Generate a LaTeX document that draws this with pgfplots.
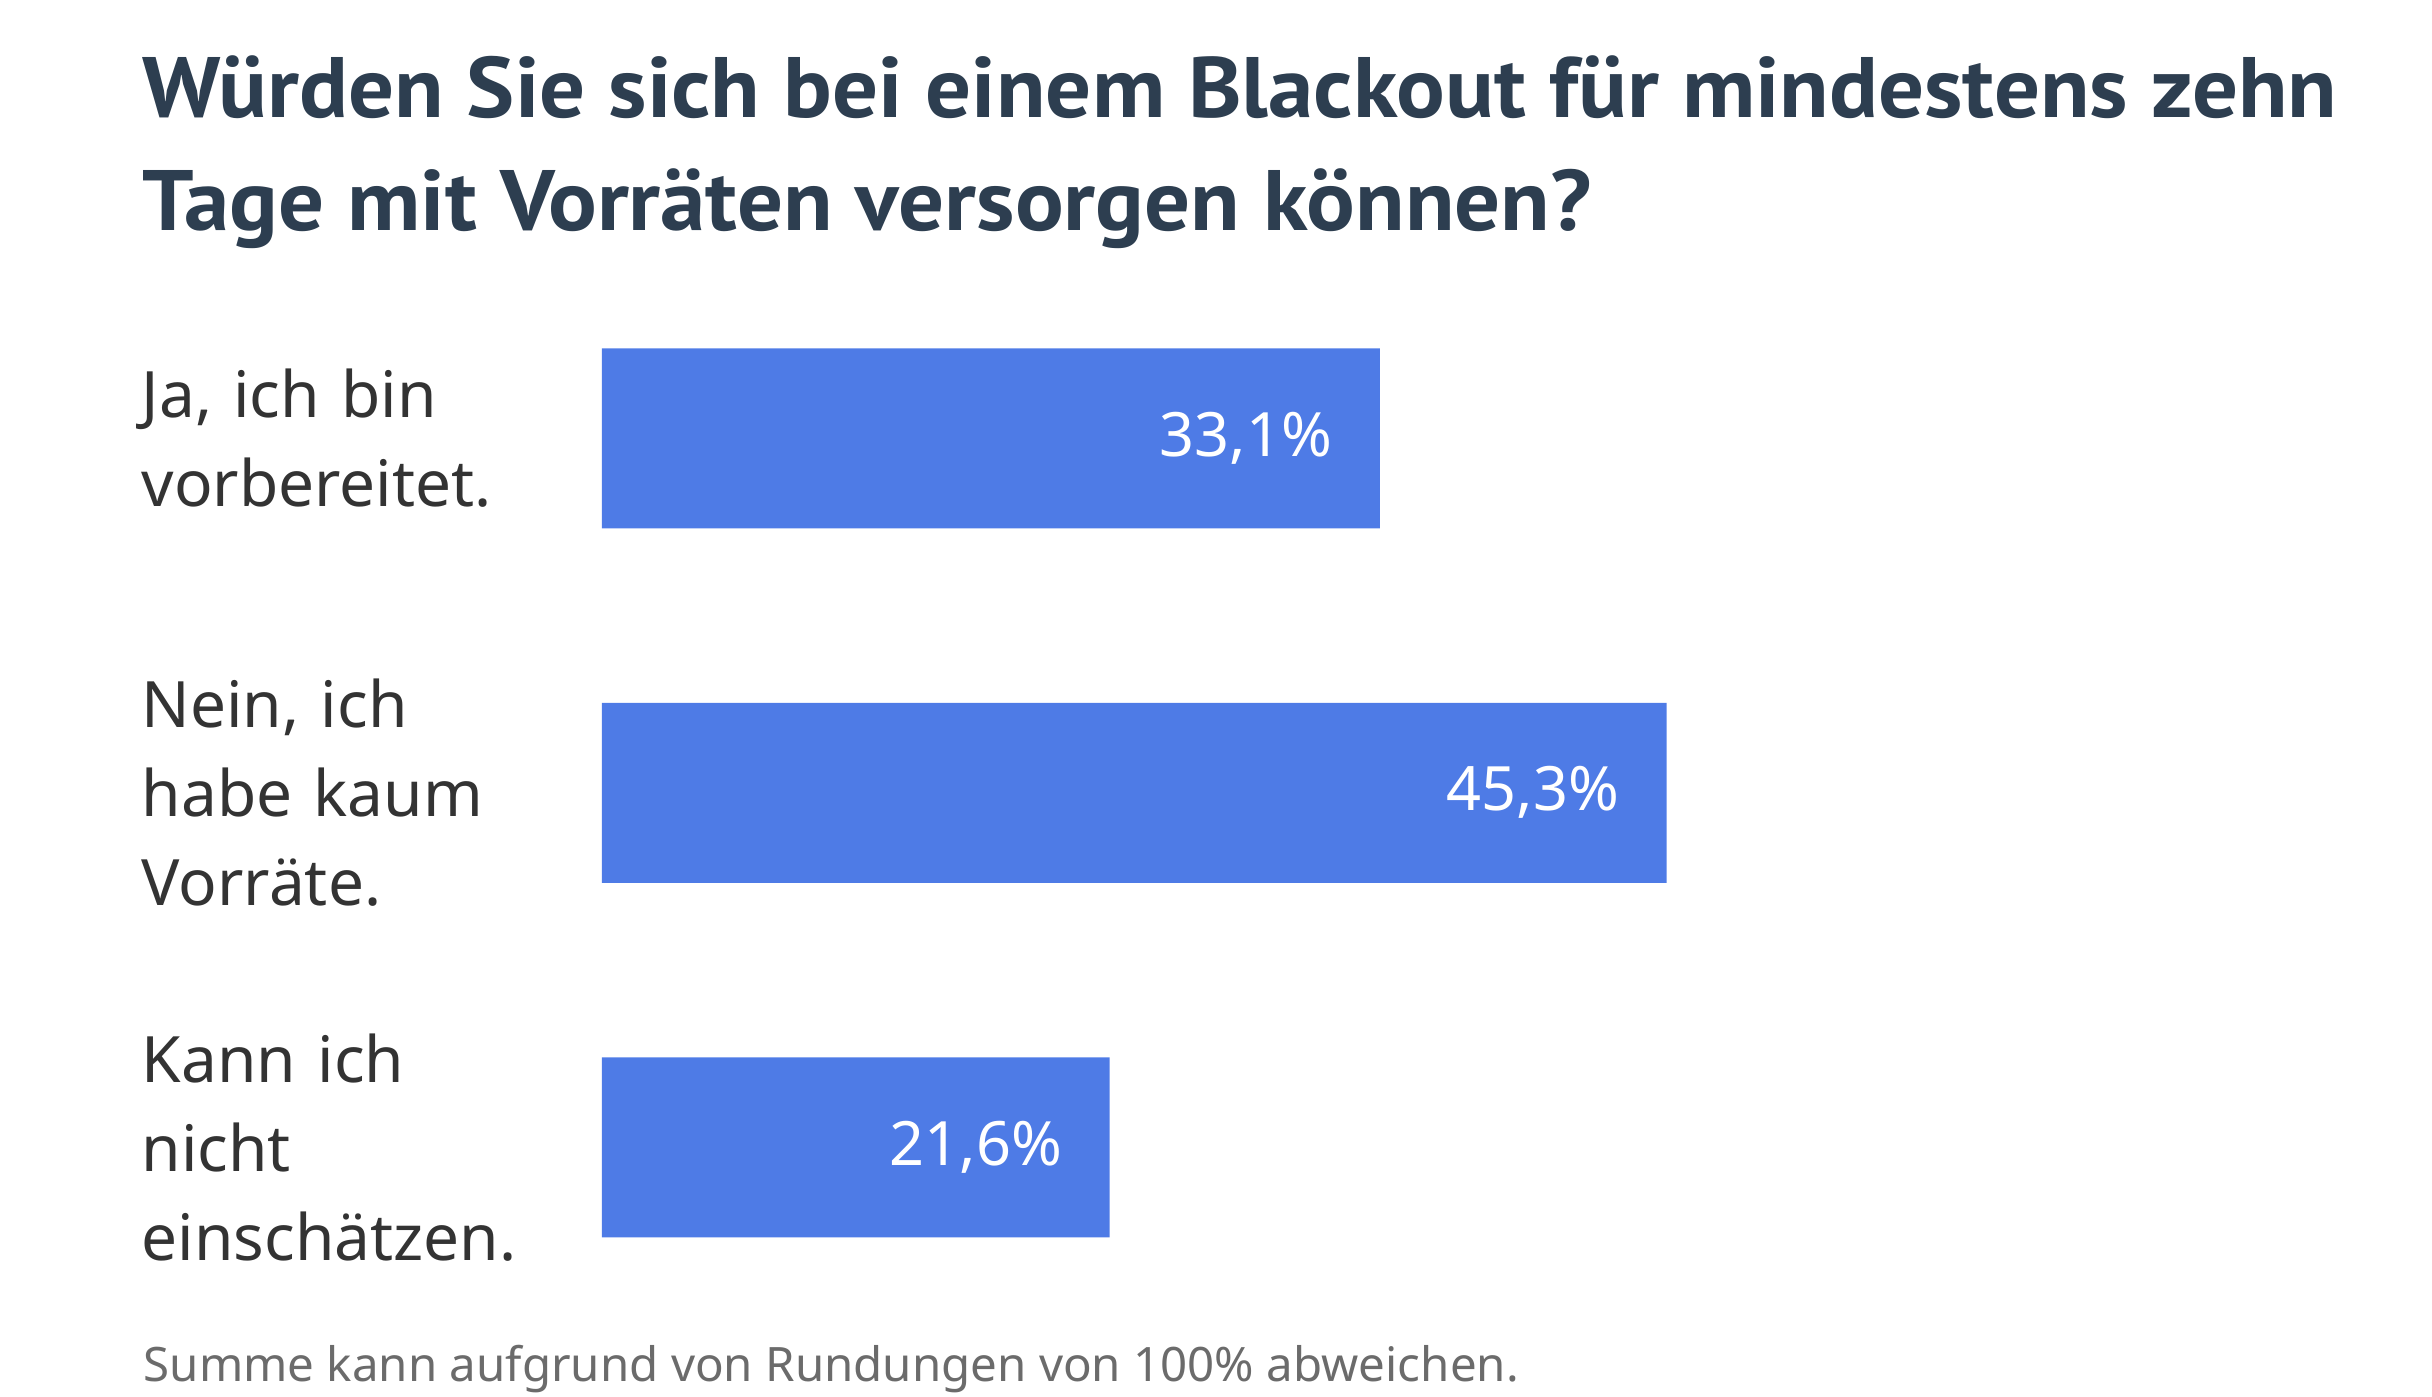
\documentclass[border=0pt]{standalone}
\usepackage{fontspec}
\setmainfont{Noto Sans}
\newfontfamily\titlefont[FakeStretch=1.06]{PT Sans}
\usepackage{pgfplots}
\pgfplotsset{compat=1.18}

\definecolor{barblue}{HTML}{4E7BE6}
\definecolor{titlecol}{HTML}{2D3E50}
\definecolor{labelcol}{HTML}{333333}
\definecolor{notecol}{HTML}{6B6B6B}

\begin{document}
\begin{tikzpicture}
  % page frame: 1 px of the reference = 0.1 mm
  \useasboundingbox (0,0) rectangle (243.2mm,-139.6mm);

  % base anchor of a multi-line node sits on its last line
  \node[anchor=base west, inner sep=0, align=left, text=titlecol,
        font=\titlefont\bfseries\fontsize{24.4}{31.9}\selectfont]
    at (14.2mm,-23.0mm)
    {Würden Sie sich bei einem Blackout für mindestens zehn\\Tage mit Vorräten versorgen können?};

  \begin{axis}[
      at={(60.2mm,-26.1mm)}, anchor=north west,
      xbar, bar width=18mm,
      scale only axis,
      width=141mm, height=106.35mm,
      xmin=0, xmax=60,
      ymin=-0.5, ymax=2.5,
      y dir=reverse,
      axis line style={draw=none},
      xtick=\empty,
      ytick={0,1,2},
      major tick length=0pt,
      yticklabels={{Ja, ich bin\\vorbereitet.},
                   {Nein, ich\\habe kaum\\Vorräte.},
                   {Kann ich\\nicht\\einschätzen.}},
      yticklabel style={anchor=west, xshift=-46.1mm, inner sep=0,
                        text width=45mm, align=left, text=labelcol,
                        font=\fontsize{18.2}{25.3}\selectfont},
      point meta=explicit symbolic,
      nodes near coords,
      nodes near coords style={anchor=east, xshift=-4.7mm, inner sep=0,
                               text=white, font=\fontsize{17.4}{22}\selectfont},
      clip=false,
    ]
    \addplot[fill=barblue, draw=none] coordinates {
      (33.1,0) [33,1\%]
      (45.3,1) [45,3\%]
      (21.6,2) [21,6\%]
    };
  \end{axis}

  \node[anchor=base west, inner sep=0, text=notecol,
        font=\fontsize{13.5}{16}\selectfont]
    at (14.3mm,-138.1mm)
    {Summe kann aufgrund von Rundungen von 100\% abweichen.};
\end{tikzpicture}
\end{document}
